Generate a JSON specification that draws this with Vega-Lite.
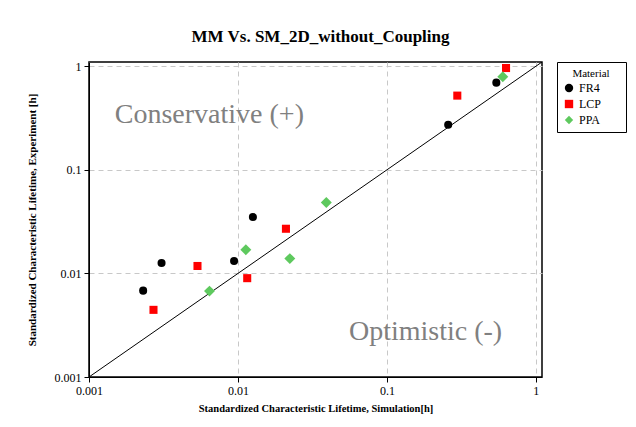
{
  "$schema": "https://vega.github.io/schema/vega-lite/v6.json",
  "width": 453,
  "height": 315,
  "autosize": {"type": "none"},
  "padding": {"left": 89, "top": 62, "right": 94, "bottom": 50},
  "background": "white",
  "title": {
    "text": "MM Vs. SM_2D_without_Coupling",
    "font": "Liberation Serif",
    "fontSize": 17,
    "fontWeight": "bold",
    "color": "black",
    "anchor": "middle",
    "dx": 5,
    "offset": 14
  },
  "config": {
    "view": {"stroke": "black", "strokeWidth": 1.5},
    "font": "Liberation Serif",
    "axis": {
      "labelFont": "Liberation Serif",
      "labelFontSize": 12,
      "labelColor": "black",
      "labelFlush": false,
      "titleFont": "Liberation Serif",
      "titleFontWeight": "bold",
      "titleColor": "black",
      "domainColor": "black",
      "tickColor": "black",
      "tickSize": 5,
      "gridColor": "#c8c8c8",
      "gridDash": [5, 4],
      "gridWidth": 1
    },
    "legend": {
      "orient": "none",
      "legendX": 468,
      "legendY": 0,
      "strokeColor": "black",
      "fillColor": "white",
      "padding": 6,
      "titleFont": "Liberation Serif",
      "titleFontSize": 11,
      "titleFontWeight": "normal",
      "titleColor": "black",
      "titleAnchor": "middle",
      "titlePadding": 3,
      "labelFont": "Liberation Serif",
      "labelFontSize": 12,
      "labelColor": "black",
      "rowPadding": 4,
      "symbolSize": 70
    }
  },
  "datasets": {
    "points": [
      {"material": "FR4", "sim": 0.00231, "exp": 0.00682},
      {"material": "FR4", "sim": 0.00307, "exp": 0.0126},
      {"material": "FR4", "sim": 0.00942, "exp": 0.0132},
      {"material": "FR4", "sim": 0.0126, "exp": 0.035},
      {"material": "FR4", "sim": 0.258, "exp": 0.273},
      {"material": "FR4", "sim": 0.543, "exp": 0.695},
      {"material": "LCP", "sim": 0.00271, "exp": 0.00445},
      {"material": "LCP", "sim": 0.00535, "exp": 0.0118},
      {"material": "LCP", "sim": 0.01154, "exp": 0.009},
      {"material": "LCP", "sim": 0.021, "exp": 0.027},
      {"material": "LCP", "sim": 0.297, "exp": 0.521},
      {"material": "LCP", "sim": 0.631, "exp": 0.962},
      {"material": "PPA", "sim": 0.00644, "exp": 0.00675},
      {"material": "PPA", "sim": 0.0113, "exp": 0.01694},
      {"material": "PPA", "sim": 0.0223, "exp": 0.0139},
      {"material": "PPA", "sim": 0.0392, "exp": 0.0485},
      {"material": "PPA", "sim": 0.6, "exp": 0.794}
    ],
    "diag": [
      {"sim": 0.001, "exp": 0.001},
      {"sim": 1.1, "exp": 1.1}
    ],
    "notes": [
      {"label": "Conservative (+)", "sim": 0.00149, "exp": 0.342},
      {"label": "Optimistic (-)", "sim": 0.0556, "exp": 0.00274}
    ]
  },
  "layer": [
    {
      "data": {"name": "diag"},
      "mark": {"type": "line", "color": "black", "strokeWidth": 1, "clip": true},
      "encoding": {
        "x": {
          "field": "sim", "type": "quantitative",
          "scale": {"type": "log", "domain": [0.001, 1.1], "nice": false},
          "axis": {
            "values": [0.001, 0.01, 0.1, 1],
            "format": "~g",
            "title": "Standardized Characteristic Lifetime, Simulation[h]",
            "titleFontSize": 10.5,
            "titlePadding": 7,
            "labelPadding": 3
          }
        },
        "y": {
          "field": "exp", "type": "quantitative",
          "scale": {"type": "log", "domain": [0.001, 1.1], "nice": false},
          "axis": {
            "values": [0.001, 0.01, 0.1, 1],
            "format": "~g",
            "title": "Standardized Characteristic Lifetime, Experiment [h]",
            "titleFontSize": 11,
            "titlePadding": 17,
            "labelPadding": 3
          }
        }
      }
    },
    {
      "data": {"name": "notes"},
      "mark": {"type": "text", "align": "left", "baseline": "middle", "font": "Liberation Serif", "fontSize": 28, "color": "#808080"},
      "encoding": {
        "x": {"field": "sim", "type": "quantitative"},
        "y": {"field": "exp", "type": "quantitative"},
        "text": {"field": "label"}
      }
    },
    {
      "data": {"name": "points"},
      "transform": [{"filter": "datum.material != 'PPA'"}],
      "mark": {"type": "point", "filled": true, "opacity": 1, "size": 65},
      "encoding": {
        "x": {"field": "sim", "type": "quantitative"},
        "y": {"field": "exp", "type": "quantitative"},
        "color": {
          "field": "material", "type": "nominal",
          "scale": {"domain": ["FR4", "LCP", "PPA"], "range": ["black", "#ff0000", "#5ec95e"]},
          "legend": {"title": "Material", "labelExpr": "datum.label + '\u2800\u2800'"}
        },
        "shape": {
          "field": "material", "type": "nominal",
          "scale": {"domain": ["FR4", "LCP", "PPA"], "range": ["circle", "square", "diamond"]},
          "legend": {"title": "Material", "labelExpr": "datum.label + '\u2800\u2800'"}
        }
      }
    },
    {
      "data": {"name": "points"},
      "transform": [{"filter": "datum.material == 'PPA'"}],
      "mark": {"type": "point", "filled": true, "opacity": 1, "size": 120},
      "encoding": {
        "x": {"field": "sim", "type": "quantitative"},
        "y": {"field": "exp", "type": "quantitative"},
        "color": {"field": "material", "type": "nominal"},
        "shape": {"field": "material", "type": "nominal"}
      }
    }
  ]
}
